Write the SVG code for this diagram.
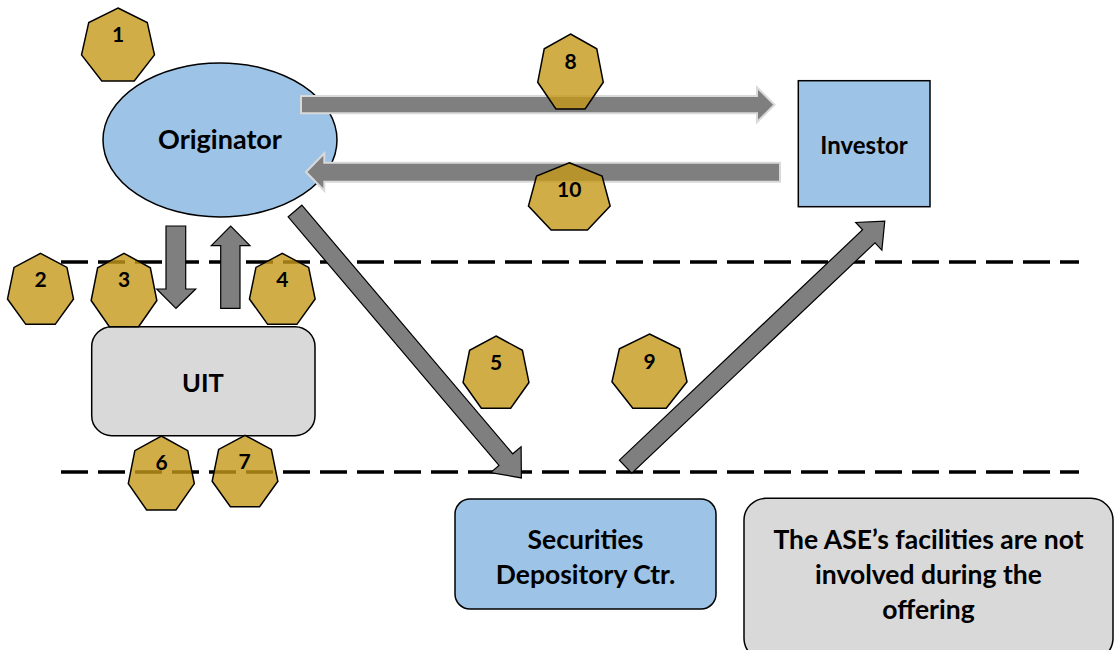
<svg xmlns="http://www.w3.org/2000/svg" width="1116" height="650" viewBox="0 0 1116 650">
  <style>
    .lbl { font-family: Lato, "Liberation Sans", sans-serif; font-weight: 700; fill: #000; text-anchor: middle; }
    .blue { fill: #9dc3e6; stroke: #000; stroke-width: 1.5; }
    .grey { fill: #d9d9d9; stroke: #000; stroke-width: 1.5; }
    .divider { fill: none; stroke: #000; stroke-width: 3.5; stroke-dasharray: 27 10; }
    .flow { fill: #7f7f7f; stroke: #000; stroke-width: 1.2; stroke-linejoin: miter; }
    .flow-light { fill: #7f7f7f; stroke: #d9d9d9; stroke-width: 2; }
    .step { fill: #c49818; fill-opacity: 0.8; stroke: #000; stroke-width: 1.5; stroke-linejoin: miter; }
    .num { font-size: 21px; }
  </style>

  <!-- zone dividers -->
  <g id="dividers">
    <line class="divider" x1="61" y1="262" x2="1079" y2="262"/>
    <line class="divider" x1="61" y1="472" x2="1079" y2="472"/>
  </g>

  <g id="originator">
    <ellipse class="blue" cx="220" cy="140" rx="117" ry="77"/>
    <text class="lbl" x="220" y="148.5" font-size="27">Originator</text>
  </g>

  <g id="investor">
    <rect class="blue" x="798.3" y="80.7" width="131.7" height="126"/>
    <text class="lbl" x="864" y="153.5" font-size="24">Investor</text>
  </g>

  <g id="uit">
    <rect class="grey" x="91.7" y="326.7" width="223.3" height="109" rx="20" ry="20"/>
    <text class="lbl" x="203" y="391.5" font-size="25.5">UIT</text>
  </g>

  <g id="depository">
    <rect class="blue" x="455" y="499" width="261" height="110" rx="15" ry="15"/>
    <text class="lbl" x="585.5" y="548.5" font-size="26.5">Securities</text>
    <text class="lbl" x="585.5" y="583.5" font-size="26.5">Depository Ctr.</text>
  </g>

  <g id="ase-note">
    <rect class="grey" x="744" y="498.3" width="369" height="162" rx="22" ry="22"/>
    <text class="lbl" x="928.5" y="548.5" font-size="26.5">The ASE’s facilities are not</text>
    <text class="lbl" x="928.5" y="583.5" font-size="26.5">involved during the</text>
    <text class="lbl" x="928.5" y="618.5" font-size="26.5">offering</text>
  </g>

  <!-- block arrows -->
  <g id="connectors">
    <!-- Originator -> Investor -->
    <polygon class="flow-light" points="301,96 757,96 757,87.5 774.5,104.7 757,122 757,113.3 301,113.3"/>
    <!-- Investor -> Originator -->
    <polygon class="flow-light" points="780,162.7 324.3,162.7 324.3,153.3 306,172 324.3,190.7 324.3,181.7 780,181.7"/>
    <!-- Originator -> UIT -->
    <polygon class="flow" points="166,226 185.7,226 185.7,289 195.7,289 176,308.3 156.7,289 166,289"/>
    <!-- UIT -> Originator -->
    <polygon class="flow" points="220.7,308.3 240,308.3 240,245.7 250,245.7 230.7,226 211.3,245.7 220.7,245.7"/>
    <!-- Originator -> Securities Depository -->
    <polygon class="flow" transform="translate(295,211) rotate(49.7)" points="0,-9 326,-9 326,-20 350,0 326,20 326,9 0,9"/>
    <!-- Securities Depository -> Investor -->
    <polygon class="flow" transform="translate(625.6,466.7) rotate(-43.45)" points="0,-9 335,-9 335,-19 357,0 335,19 335,9 0,9"/>
  </g>

  <!-- numbered step badges -->
  <g id="step-1">
    <polygon class="step" points="118,8 147.24,22.46 154.46,54.94 134.23,81 101.77,81 81.54,54.94 88.76,22.46"/>
    <text class="lbl num" x="118" y="41.5">1</text>
  </g>
  <g id="step-2">
    <polygon class="step" points="40.5,253.35 66.96,267.41 73.5,299.01 55.19,324.35 25.81,324.35 7.5,299.01 14.04,267.41"/>
    <text class="lbl num" x="40.5" y="287">2</text>
  </g>
  <g id="step-3">
    <polygon class="step" points="124,253.3 150.35,267.83 156.85,300.49 138.62,326.68 109.38,326.68 91.15,300.49 97.65,267.83"/>
    <text class="lbl num" x="124" y="287">3</text>
  </g>
  <g id="step-4">
    <polygon class="step" points="282.3,253.35 308.65,267.41 315.15,299.01 296.92,324.35 267.68,324.35 249.45,299.01 255.95,267.41"/>
    <text class="lbl num" x="282.3" y="287">4</text>
  </g>
  <g id="step-5">
    <polygon class="step" points="496,336 522.42,350.31 528.95,382.46 510.67,408.24 481.33,408.24 463.05,382.46 469.58,350.31"/>
    <text class="lbl num" x="496" y="369.5">5</text>
  </g>
  <g id="step-6">
    <polygon class="step" points="161.3,436 187.76,450.65 194.3,483.56 175.99,509.95 146.61,509.95 128.3,483.56 134.84,450.65"/>
    <text class="lbl num" x="161.5" y="469.5">6</text>
  </g>
  <g id="step-7">
    <polygon class="step" points="245,435.3 271.35,449.46 277.85,481.27 259.62,506.78 230.38,506.78 212.15,481.27 218.65,449.46"/>
    <text class="lbl num" x="244.5" y="468.5">7</text>
  </g>
  <g id="step-8">
    <polygon class="step" points="570.5,34 596.77,48.85 603.26,82.23 585.08,108.99 555.92,108.99 537.74,82.23 544.23,48.85"/>
    <text class="lbl num" x="570.5" y="68.5">8</text>
  </g>
  <g id="step-9">
    <polygon class="step" points="649.5,334 679.6,348.72 687.03,381.8 666.21,408.33 632.79,408.33 611.97,381.8 619.4,348.72"/>
    <text class="lbl num" x="649.5" y="368.5">9</text>
  </g>
  <g id="step-10">
    <polygon class="step" points="569.3,162.7 602.06,176.03 610.15,205.98 587.48,230 551.12,230 528.45,205.98 536.54,176.03"/>
    <text class="lbl num" x="569.3" y="197">10</text>
  </g>
</svg>
